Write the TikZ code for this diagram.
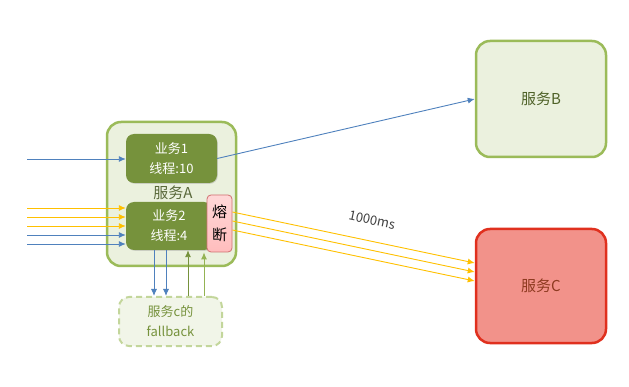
\documentclass[tikz,border=0pt]{standalone}
\usepackage{fontspec}
\setmainfont{Noto Sans CJK SC}
\usepackage{tikz}
\usetikzlibrary{calc,shadows,arrows.meta}
\definecolor{svcfill}{HTML}{EBF1DE}
\definecolor{svcline}{HTML}{9BBB59}
\definecolor{bizfill}{HTML}{76923C}
\definecolor{darkolive}{HTML}{4F6228}
\definecolor{callblue}{HTML}{4F81BD}
\definecolor{callgold}{HTML}{FFC000}
\definecolor{fusefill}{HTML}{FFBDBD}
\definecolor{fuseline}{HTML}{D07070}
\definecolor{downfill}{HTML}{F2928A}
\definecolor{downline}{HTML}{E0301E}
\definecolor{downtext}{HTML}{8E3A20}
\definecolor{fbline}{HTML}{C3D69B}
\tikzset{
  svcbox/.style={draw=svcline,fill=svcfill,line width=2.5pt,rounded corners=14pt,
    font=\fontsize{15}{18}\selectfont},
  bizbox/.style={fill=bizfill,rounded corners=8pt,text=white,align=center,
    drop shadow={shadow xshift=0.8pt,shadow yshift=-0.8pt,opacity=0.3},
    font=\fontsize{13}{20}\selectfont},
  call/.style={->,line width=0.9pt},
}

\begin{document}
\begin{tikzpicture}[x=1pt,y=-1pt,>={Latex[length=7pt,width=6pt]}]
  \useasboundingbox (0,0) rectangle (629,387);
  % ---------- service A with its two businesses -------------------
  \node[svcbox,minimum width=129pt,minimum height=144pt] (svcA) at (171.5,194) {};
  \node[font=\fontsize{15}{18}\selectfont,text=darkolive!80!gray] (lblA) at (173,193) {服务A};
  \node[bizbox,minimum width=91pt,minimum height=49pt] (biz1) at (171.5,158.5)
      {业务1\\线程:10};
  \node[bizbox,minimum width=86pt,minimum height=48pt,inner sep=0pt] (biz2) at (169,226)
      {业务2\\线程:4};
  \node[draw=fuseline,top color=fusefill!60!white,bottom color=fusefill,
      rounded corners=4pt,line width=0.8pt,minimum width=25pt,minimum height=57pt,
      inner sep=0pt,align=center,font=\fontsize{15}{23}\selectfont] (fuse) at (219.5,223.5)
      {熔\\断};
  % ---------- downstream services ---------------------------------
  \node[svcbox,minimum width=130pt,minimum height=116pt,text=darkolive] (svcB) at (541,99) {服务B};
  \node[svcbox,draw=downline,fill=downfill,text=downtext,
      minimum width=130pt,minimum height=114pt] (svcC) at (541,286) {服务C};
  \node[draw=fbline,fill=svcfill!70!white,dashed,dash pattern=on 6pt off 4pt,line width=2pt,
      rounded corners=10pt,minimum width=103pt,minimum height=49pt,align=center,
      text=bizfill,font=\fontsize{13}{20}\selectfont] (fb) at (170.5,321.5)
      {服务c的\\fallback};
  % ---------- incoming calls ----------------------------------------
  \coordinate (src1) at (27,159);
  \draw[call,callblue] (src1) -- (src1 -| biz1.west);
  \foreach \i/\y/\c in {2/208/callgold,3/217/callgold,4/226/callgold,5/235/callblue,6/244/callblue}{
    \coordinate (src\i) at (27,\y);
    \draw[call,\c] (src\i) -- (src\i -| biz2.west);
  }
  % ---------- outgoing calls ----------------------------------------
  \draw[call,callblue] (biz1.east) -- (svcB.west);
  \foreach \a/\b in {-11.5/-23,-2.5/-14,6.5/-5}
    \draw[call,callgold] ($(fuse.east)+(0,\a)$) -- ($(svcC.west)+(0,\b)$);
  \node[rotate=-12,text=black!75,inner sep=1pt,font=\fontsize{13}{16}\itshape\selectfont] (ms) at (372,220) {1000ms};
  % ---------- fallback ----------------------------------------------
  \foreach \x in {154,166}{
    \coordinate (dn\x) at (\x,0);
    \draw[call,callblue] (biz2.south -| dn\x) -- (fb.north -| dn\x);
  }
  \coordinate (up1) at (188,0);
  \coordinate (up2) at (204,0);
  \draw[call,bizfill] (fb.north -| up1) -- (biz2.south -| up1);
  \draw[call,svcline!80!bizfill] (fb.north -| up2) -- (fuse.south -| up2);
\end{tikzpicture}
\end{document}
